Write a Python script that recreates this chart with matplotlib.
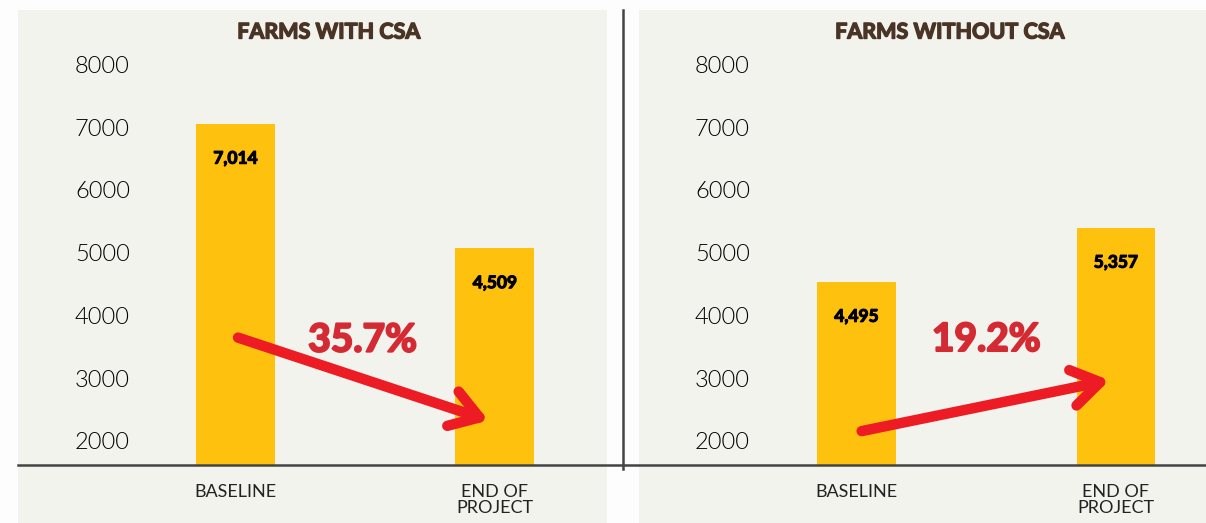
import matplotlib.pyplot as plt
from matplotlib.patches import Rectangle, FancyArrowPatch
from matplotlib.lines import Line2D
import matplotlib.patheffects as pe

plt.rcParams['font.family'] = ['Lato', 'DejaVu Sans']

# ---- data ----
categories = ["BASELINE", "END OF\nPROJECT"]
panel_titles = ["FARMS WITH CSA", "FARMS WITHOUT CSA"]
with_csa = [7014, 5030]          # bar heights as drawn
with_csa_labels = ["7,014", "4,509"]
without_csa = [4495, 5357]
without_csa_labels = ["4,495", "5,357"]
change_labels = ["35.7%", "19.2%"]
yticks = [2000, 3000, 4000, 5000, 6000, 7000, 8000]
# arrow endpoints (x in category units, y in data units)
arrow_left = [(0.01, 3610), (0.975, 2290)]
arrow_right = [(0.02, 2120), (0.975, 2930)]

W, H = 1206, 523
fig = plt.figure(figsize=(W / 100, H / 100), dpi=100)
fig.patch.set_facecolor('#FDFDFD')

PANEL = '#F3F3EE'
BAR = '#FEC10E'
TITLE = '#4A3426'
RED_TXT = '#D42A34'
RED_ARR = '#ED1C24'
LINE = '#444444'

def px(x0, y0, x1, y1):
    return [x0 / W, 1 - y1 / H, (x1 - x0) / W, (y1 - y0) / H]

def heavy(color, w):
    return [pe.withStroke(linewidth=w, foreground=color)]

# panel backgrounds
for (x0, x1) in [(18, 607), (639, 1206)]:
    fig.patches.append(Rectangle((x0 / W, 0), (x1 - x0) / W, 1 - 10 / H,
                                 transform=fig.transFigure, facecolor=PANEL,
                                 edgecolor='none', zorder=-5))

panels = [
    (px(18, 10, 607, 465), with_csa, with_csa_labels, panel_titles[0],
     change_labels[0], arrow_left, (0.49, 3570), 1.432, 112),
    (px(639, 10, 1206, 465), without_csa, without_csa_labels, panel_titles[1],
     change_labels[1], arrow_right, (0.50, 3580), 1.347, 111),
]

SCALE = 0.06277  # px per data unit

for rect, vals, labs, title, chg, arr, chg_pos, xr, lab_dx in panels:
    ax = fig.add_axes(rect, zorder=2)
    ax.set_facecolor('none')
    ax.set_xlim(-0.838, xr)
    ax.set_ylim(1580, 8830)
    for s in ax.spines.values():
        s.set_visible(False)
    xs = list(range(len(vals)))
    ax.bar(xs, vals, width=0.304, color=BAR, zorder=2)
    ax.set_yticks([])
    for t in yticks:
        ax.annotate(str(t), xy=(0, t), xycoords=('axes fraction', 'data'),
                    xytext=(lab_dx * 0.72, -3), textcoords='offset points',
                    ha='right', va='center', fontsize=17, color='#000000',
                    fontweight=300)
    ax.set_xticks(xs)
    ax.set_xticklabels(categories, fontsize=13, color='#222222',
                       linespacing=1.0, va='top')
    ax.tick_params(axis='x', length=0, pad=14)
    for x, v, l in zip(xs, vals, labs):
        ax.annotate(l, (x, v), xytext=(0, -25), textcoords='offset points',
                    ha='center', va='center', fontsize=12.5, fontweight='bold',
                    color='#000000', zorder=3, path_effects=heavy('#000000', 0.8))
    ax.text(0.36, 8830 - 22 / SCALE, title, ha='center', va='center',
            fontsize=15.5, fontweight='bold', color=TITLE,
            path_effects=heavy(TITLE, 1.0))
    ax.text(chg_pos[0], chg_pos[1], chg, ha='center', va='center', fontsize=28,
            fontweight='bold', color=RED_TXT, zorder=4,
            path_effects=heavy(RED_TXT, 1.5))
    ax.add_patch(FancyArrowPatch(arr[0], arr[1],
                                 arrowstyle='->,head_length=1.0,head_width=0.65',
                                 mutation_scale=20, color=RED_ARR, linewidth=7.5,
                                 capstyle='round', joinstyle='round',
                                 shrinkA=0, shrinkB=0, zorder=5))

# baseline and divider
fig.lines.append(Line2D([18 / W, 1.0], [1 - 465 / H] * 2, transform=fig.transFigure,
                        color=LINE, linewidth=1.8, zorder=6))
fig.lines.append(Line2D([623 / W] * 2, [1 - 10 / H, 1 - 469 / H], transform=fig.transFigure,
                        color=LINE, linewidth=1.8, zorder=6))

fig.savefig('out.png', dpi=100, facecolor=fig.get_facecolor())
